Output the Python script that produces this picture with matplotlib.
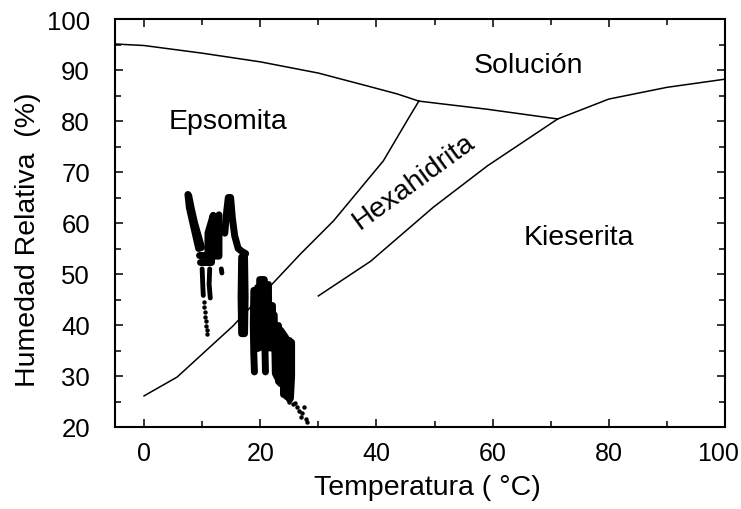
import matplotlib
matplotlib.use("Agg")
import matplotlib.pyplot as plt
from matplotlib.ticker import MultipleLocator
from matplotlib.transforms import ScaledTranslation

plt.rcParams['font.family'] = ['Liberation Sans', 'DejaVu Sans']
nan = float('nan')

# ---- phase boundaries (Temperatura, Humedad Relativa) ----
sol_eps_T = [-5, 0, 10, 20, 30, 39, 43.6, 47.3]
sol_eps_RH = [95.1, 94.8, 93.3, 91.6, 89.4, 86.7, 85.3, 83.9]
sol_hex_T = [47.3, 59.1, 71.2]
sol_hex_RH = [83.9, 82.3, 80.4]
sol_kie_T = [71.2, 80, 90, 100]
sol_kie_RH = [80.4, 84.3, 86.6, 88.2]
eps_hex_T = [47.3, 45.5, 41.2, 32.6, 26.9, 22.2, 15.3, 5.7, 0]
eps_hex_RH = [83.9, 80.5, 72.2, 60.4, 53.9, 48.2, 39.8, 29.8, 26.1]
hex_kie_T = [71.2, 59.1, 49.8, 39.0, 30.0]
hex_kie_RH = [80.4, 71.2, 63.1, 52.5, 45.7]

arm_T = [7.55, 7.8, 8.4, 9.0, 9.4, 9.9, 9.4, 8.7, 8.1, 7.7]
arm_RH = [65.6, 63.0, 60.0, 57.0, 55.0, 55.2, 57.2, 60.0, 63.0, 65.3]
vb_T = [9.4, 11.6, 11.6, 9.6]
vb_RH = [53.8, 53.8, 52.3, 52.3]
hump_T = [11.0, 11.0, 11.9, 11.9, 12.9, 12.9]
hump_RH = [53.5, 58.0, 61.5, 53.5, 53.5, 61.6]
finger_T = [10.0, 10.1, 10.2, nan, 11.3, 11.2, 11.4, nan, 13.3, 13.4]
finger_RH = [51.0, 48.0, 45.8, nan, 51.0, 48.0, 45.3, nan, 51.0, 50.2]
peak_T = [13.9, 14.2, 14.5, 14.9, 15.2, 15.6, 16.2, 17.0, 17.5]
peak_RH = [58.0, 62.0, 65.0, 65.0, 61.0, 57.5, 55.0, 54.3, 54.0]
band_T = [16.8, 16.7, 16.8, 17.3, 17.4, 17.3]
band_RH = [53.3, 45.5, 38.3, 38.3, 45.5, 53.3]
blob_T = [18.9, 18.8, 18.9, 19.0, nan, 19.8, 19.9, 19.9, 20.7, 20.9, 20.8, 20.9,
          nan, 21.6, 21.6, 21.1, nan, 22.4, 22.6, 23.5, 23.5, 24.4, 24.5, 25.2,
          25.4, 25.4]
blob_RH = [46.8, 40.0, 34.0, 30.8, nan, 35.5, 42.0, 48.9, 48.9, 42.0, 36.0, 30.8,
           nan, 35.5, 42.0, 47.8, nan, 42.0, 30.5, 28.5, 39.0, 37.5, 26.0, 25.6,
           30.0, 36.6]
fill_T = [19.4, 19.4, nan, 20.35, 20.35, nan, 21.3, 21.3, nan, 22.0, 22.0, nan,
          23.0, 23.0, nan, 23.95, 23.95, nan, 24.9, 24.9]
fill_RH = [47.5, 35.5, nan, 49.0, 36.0, nan, 48.0, 36.0, nan, 44.0, 35.5, nan,
           40.0, 29.0, nan, 38.0, 26.5, nan, 37.0, 25.5]
tail_T = [10.3, 10.35, 10.45, 10.5, 10.6, 10.65, 10.75, 10.85]
tail_RH = [44.6, 43.6, 42.6, 41.6, 40.7, 39.8, 39.0, 38.2]
bottom_T = [25.0, 25.6, 26.0, 26.4, 26.7, 27.2, 27.5, 27.0, 27.8, 28.1]
bottom_RH = [25.0, 24.6, 24.8, 24.0, 23.2, 22.8, 24.0, 22.0, 21.5, 20.9]

x_ticks = [0, 20, 40, 60, 80, 100]
y_ticks = [20, 30, 40, 50, 60, 70, 80, 90, 100]

fig = plt.figure(figsize=(7.41, 5.10), dpi=100)
ax = fig.add_axes([115/741, 82/510, 610/741, 408/510])

bkw = dict(color='black', lw=1.1, solid_joinstyle='round')
for T, RH in [(sol_eps_T, sol_eps_RH), (sol_hex_T, sol_hex_RH),
              (sol_kie_T, sol_kie_RH), (eps_hex_T, eps_hex_RH),
              (hex_kie_T, hex_kie_RH)]:
    ax.plot(T, RH, **bkw)

dkw = dict(color='black', lw=5.0, solid_capstyle='round', solid_joinstyle='round')
for T, RH in [(arm_T, arm_RH), (vb_T, vb_RH), (hump_T, hump_RH),
              (peak_T, peak_RH), (band_T, band_RH), (blob_T, blob_RH),
              (fill_T, fill_RH)]:
    ax.plot(T, RH, **dkw)
ax.plot(finger_T, finger_RH, color='black', lw=3.5, solid_capstyle='round')
ax.plot(tail_T, tail_RH, 'o', color='black', ms=3.2, mew=0)
ax.plot(bottom_T, bottom_RH, 'o', color='black', ms=3.2, mew=0)

ax.set_xlim(-5, 100)
ax.set_ylim(20, 100)
ax.set_xticks(x_ticks)
ax.set_yticks(y_ticks)
ax.xaxis.set_minor_locator(MultipleLocator(10))
ax.yaxis.set_minor_locator(MultipleLocator(5))
ax.tick_params(which='both', direction='in', top=True, right=True, width=1.1)
ax.tick_params(which='major', length=6)
ax.tick_params(which='minor', length=4)
ax.tick_params(axis='x', which='major', pad=10, labelsize=18)
ax.tick_params(axis='y', which='major', pad=18, labelsize=18.5)
for s in ax.spines.values():
    s.set_linewidth(1.5)

last = ax.xaxis.get_major_ticks()[-1].label1
last.set_transform(last.get_transform() + ScaledTranslation(-7/100, 0, fig.dpi_scale_trans))

tkw = dict(fontsize=20.5, color='black')
ax.text(14.5, 78.6, 'Epsomita', ha='center', va='baseline', **tkw)
ax.text(66.2, 89.6, 'Solución', ha='center', va='baseline', **tkw)
ax.text(74.9, 55.9, 'Kieserita', ha='center', va='baseline', **tkw)
ax.text(46.4, 68.2, 'Hexahidrita', ha='center', va='center', rotation=36,
        rotation_mode='anchor', **tkw)

fig.text(427/741, 1 - 488/510, 'Temperatura ( °C)', ha='center', va='center', **tkw)
fig.text(28.5/741, 1 - 240/510, 'Humedad Relativa  (%)', ha='center', va='center',
         rotation=90, **tkw)

fig.savefig('out.png', dpi=100)
